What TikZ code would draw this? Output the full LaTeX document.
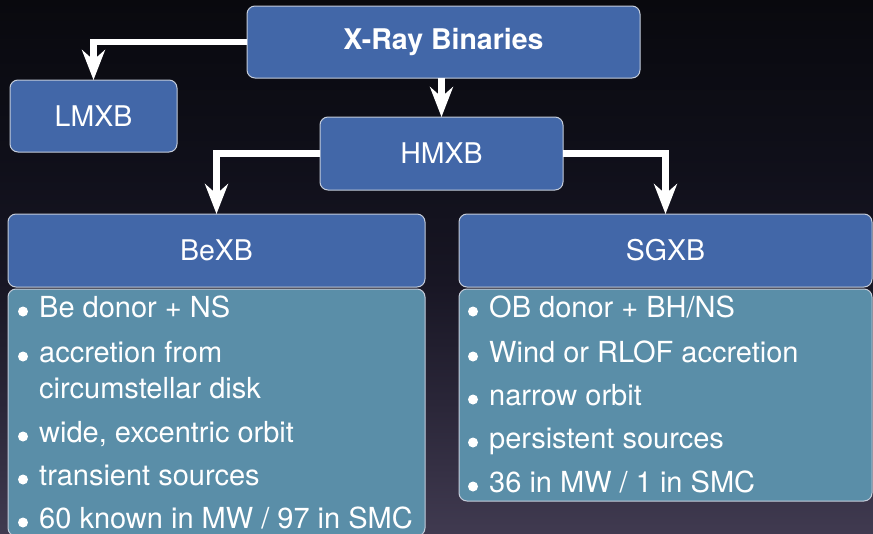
\documentclass[tikz,border=0pt]{standalone}
\usepackage{fontspec}
\setmainfont{TeX Gyre Heros}
\usetikzlibrary{arrows.meta}

\definecolor{bgA}{RGB}{64,58,80}
\definecolor{bgB}{RGB}{42,38,56}
\definecolor{bgC}{RGB}{24,22,36}
\definecolor{bgD}{RGB}{15,15,25}
\definecolor{bgE}{RGB}{9,9,14}
\definecolor{headblue}{RGB}{66,103,168}
\definecolor{bodyteal}{RGB}{90,142,168}
\definecolor{boxedge}{RGB}{196,204,218}

\pgfdeclareverticalshading{nightsky}{100bp}{%
  color(0bp)=(bgA); color(25bp)=(bgA); color(37.2bp)=(bgB);
  color(48.5bp)=(bgC); color(60.6bp)=(bgD); color(75bp)=(bgE); color(100bp)=(bgE)}

\tikzset{
  box/.style={draw=boxedge, line width=1pt, rounded corners=8pt,
    inner sep=0pt, outer sep=0pt, text=white},
  headbox/.style={box, fill=headblue, font=\fontsize{28.5}{32}\selectfont},
  bodybox/.style={box, fill=bodyteal},
  flow/.style={draw=white, line width=6.5pt,
    -{Stealth[length=30pt, width=23pt, inset=10pt]}},
  item/.style={anchor=base west, inner sep=0pt, text=white,
    font=\fontsize{29}{33}\selectfont},
  dot/.style={fill=white},
}

\begin{document}
\begin{tikzpicture}[x=1pt, y=-1pt]
  \useasboundingbox (0,0) rectangle (873,533);
  \clip (0,0) rectangle (873,533);
  \shade[shading=nightsky] (0,0) rectangle (873,533);

  % category boxes
  \node[headbox, minimum width=393pt, minimum height=72pt] (xrb) at (443.5,42)
    {\textbf{X-Ray Binaries}};
  \node[headbox, minimum width=167pt, minimum height=72pt] (lmxb) at (93.5,116) {LMXB};
  \node[headbox, minimum width=243pt, minimum height=73pt] (hmxb) at (441.5,153.5) {HMXB};
  \node[headbox, minimum width=417pt, minimum height=73pt] (bexb) at (216.5,250.5) {BeXB};
  \node[headbox, minimum width=413pt, minimum height=73pt] (sgxb) at (665.5,250.5) {SGXB};

  % property panels
  \node[bodybox, minimum width=417pt, minimum height=247pt] (bebody) at (216.5,412.5) {};
  \node[bodybox, minimum width=413pt, minimum height=212pt] (sgbody) at (665.5,395) {};

  % connectors
  \draw[flow] (xrb.west) -| (lmxb.north);
  \draw[flow] (xrb.south -| hmxb.north) -- (hmxb.north);
  \draw[flow] (hmxb.west) -| (bexb.north);
  \draw[flow] (hmxb.east) -| (sgxb.north);

  % BeXB properties
  \fill[dot] (23,311.5) circle (5pt);
  \node[item] (be1) at (39,317) {Be donor + NS};
  \fill[dot] (23,356.5) circle (5pt);
  \node[item] (be2) at (39,362) {accretion from};
  \node[item] (be2b) at (39,398) {circumstellar disk};
  \fill[dot] (23,436.5) circle (5pt);
  \node[item] (be3) at (39,442) {wide, excentric orbit};
  \fill[dot] (23,479.5) circle (5pt);
  \node[item] (be4) at (39,485) {transient sources};
  \fill[dot] (23,522.5) circle (5pt);
  \node[item] (be5) at (39,528) {60 known in MW / 97 in SMC};

  % SGXB properties
  \fill[dot] (473,311.5) circle (5pt);
  \node[item] (sg1) at (489,317) {OB donor + BH/NS};
  \fill[dot] (473,356.5) circle (5pt);
  \node[item] (sg2) at (489,362) {Wind or RLOF accretion};
  \fill[dot] (473,399.5) circle (5pt);
  \node[item] (sg3) at (489,405) {narrow orbit};
  \fill[dot] (473,442.5) circle (5pt);
  \node[item] (sg4) at (489,448) {persistent sources};
  \fill[dot] (473,486.5) circle (5pt);
  \node[item] (sg5) at (489,492) {36 in MW / 1 in SMC};
\end{tikzpicture}
\end{document}
